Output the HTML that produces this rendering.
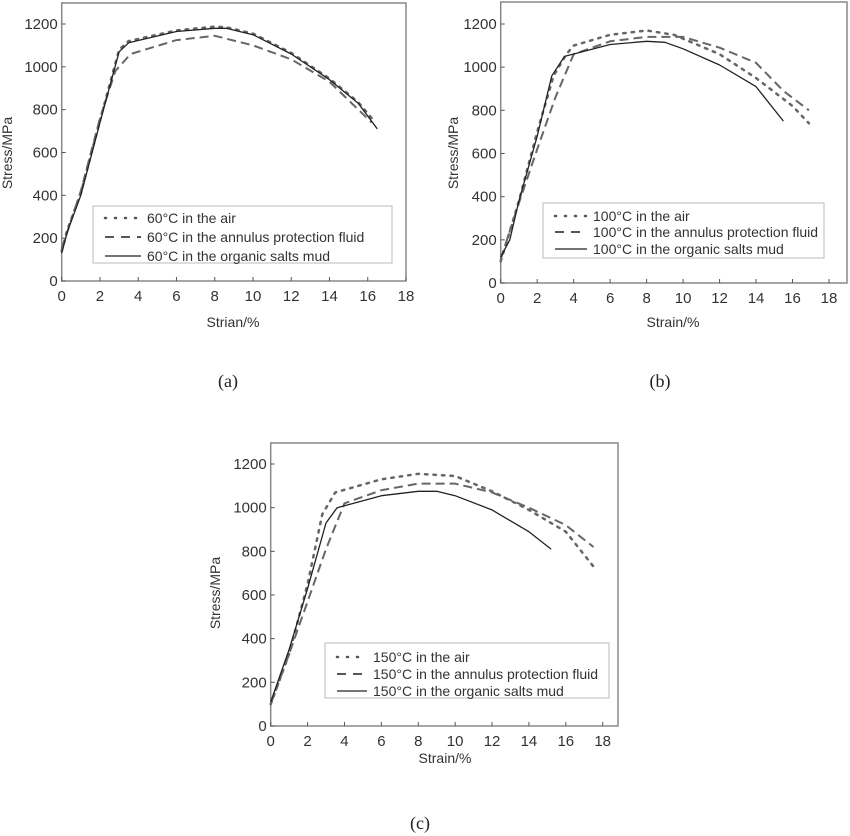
<!DOCTYPE html>
<html><head><meta charset="utf-8"><style>
html,body{margin:0;padding:0;background:#fff;}
svg{display:block;font-family:"Liberation Sans",sans-serif;}
</style></head><body>
<svg id="s" width="850" height="836" xmlns="http://www.w3.org/2000/svg"></svg>
<script>
const S=document.getElementById('s');
let h='';
function panel(p){
  const {x0,x18,y0,y1200,right,top,t,leg,series,xl,yl,xlabel}=p;
  const X=v=>x0+(x18-x0)*v/18, Y=v=>y0-(y0-y1200)*v/1200;
  h+=`<rect x="${x0}" y="${top}" width="${right-x0}" height="${y0-top}" fill="none" stroke="#888" stroke-width="1.5"/>`;
  for(let i=0;i<=18;i+=2){const x=X(i);h+=`<line x1="${x}" y1="${y0}" x2="${x}" y2="${y0-4}" stroke="#555"/>`;
    h+=`<text x="${x}" y="${y0+20}" font-size="15" fill="#333" text-anchor="middle">${i}</text>`;}
  for(let i=0;i<=1200;i+=200){const y=Y(i);h+=`<line x1="${x0}" y1="${y}" x2="${x0+4}" y2="${y}" stroke="#555"/>`;
    h+=`<text x="${x0-4}" y="${y+5}" font-size="15" fill="#333" text-anchor="end">${i}</text>`;}
  h+=`<text x="${xl[0]}" y="${xl[1]}" font-size="14" fill="#333" text-anchor="middle">${xlabel}</text>`;
  h+=`<text transform="translate(${yl[0]},${yl[1]}) rotate(-90)" font-size="14" fill="#333" text-anchor="middle">Stress/MPa</text>`;
  const st=[['2.5 6',2.5,'round'],['9 5',2,'butt'],['',1.3,'butt']];
  series.forEach((d,k)=>{
    h+=`<polyline fill="none" stroke="${k==2?'#222':'#666'}" stroke-width="${st[k][1]}" stroke-linecap="${st[k][2]}" ${st[k][0]?`stroke-dasharray="${st[k][0]}"`:''} stroke-linejoin="round" points="${d.map(q=>X(q[0]).toFixed(1)+','+Y(q[1]).toFixed(1)).join(' ')}"/>`;
  });
  const [lx1,ly1,lx2,ly2,tx,rows]=leg;
  h+=`<rect x="${lx1}" y="${ly1}" width="${lx2-lx1}" height="${ly2-ly1}" fill="#fff" stroke="#bbb"/>`;
  const names=[' in the air',' in the annulus protection fluid',' in the organic salts mud'];
  rows.forEach((ry,k)=>{
    h+=`<line x1="${lx1+12}" y1="${ry}" x2="${tx-6}" y2="${ry}" stroke="${k==2?'#222':'#555'}" stroke-width="${st[k][1]}" stroke-linecap="${st[k][2]}" ${k==0?'stroke-dasharray="1 9"':k==1?'stroke-dasharray="9 7"':''}/>`;
    h+=`<text x="${tx}" y="${ry+5}" font-size="14" fill="#333">${t}°C${names[k]}</text>`;
  });
}
panel({x0:61.7,x18:406,y0:281,y1200:24,right:406,top:3,t:60,xlabel:'Strian/%',xl:[233,327],yl:[12,153],
 leg:[93,206,392,263,147,[218,237,256]],
 series:[
  [[0,140],[0.3,240],[1,410],[2,750],[3,1080],[3.5,1120],[6,1170],[8,1188],[8.6,1185],[10,1155],[12,1065],[14,945],[15.5,835],[16.4,740]],
  [[0,150],[1,420],[2,760],[2.8,980],[3.6,1060],[6,1125],[8,1145],[10,1100],[12,1035],[14,930],[16.2,740]],
  [[0,130],[0.3,230],[1,400],[2,740],[3,1070],[3.5,1112],[6,1165],[8,1180],[8.6,1180],[10,1150],[12,1060],[14,940],[15.5,830],[16.5,710]]]});
panel({x0:500.7,x18:829,y0:283,y1200:24,right:847,top:2,t:100,xlabel:'Strain/%',xl:[673,327],yl:[458,153],
 leg:[543,203,824,258,593,[216,232,249]],
 series:[
  [[0,100],[1,380],[2,700],[2.9,960],[3.6,1060],[4,1100],[6,1150],[8,1170],[9.5,1150],[12,1060],[14,950],[16,820],[16.9,740]],
  [[0,110],[1,370],[2,620],[3,860],[4,1060],[6,1120],[8,1140],[10,1140],[12,1090],[14,1020],[15.5,890],[16.9,800]],
  [[0,120],[0.5,200],[1,380],[2,680],[2.8,960],[3.5,1050],[6,1105],[8,1120],[9,1115],[10,1085],[12,1010],[14,910],[15.5,750]]]});
panel({x0:270.7,x18:602.7,y0:726,y1200:464,right:618,top:443,t:150,xlabel:'Strain/%',xl:[445,763],yl:[220,593],
 leg:[325,643,609,698,373,[657,674,691]],
 series:[
  [[0,100],[1,330],[2,650],[2.8,970],[3.5,1070],[6,1130],[8,1155],[10,1145],[12,1075],[14,990],[16,890],[17.5,730]],
  [[0,100],[1,330],[2,570],[3,810],[4,1020],[6,1080],[8,1110],[10,1110],[12,1070],[14,1000],[16,920],[17.5,820]],
  [[0,110],[1,350],[2,630],[3,930],[3.6,1000],[6,1055],[8,1075],[9,1075],[10,1055],[12,990],[14,890],[15.2,810]]]});
h+=`<text x="228" y="387" font-size="18" font-family="Liberation Serif,serif" text-anchor="middle" fill="#222">(a)</text>`;
h+=`<text x="660" y="387" font-size="18" font-family="Liberation Serif,serif" text-anchor="middle" fill="#222">(b)</text>`;
h+=`<text x="420" y="829" font-size="18" font-family="Liberation Serif,serif" text-anchor="middle" fill="#222">(c)</text>`;
S.innerHTML=h;
</script>
</body></html>
